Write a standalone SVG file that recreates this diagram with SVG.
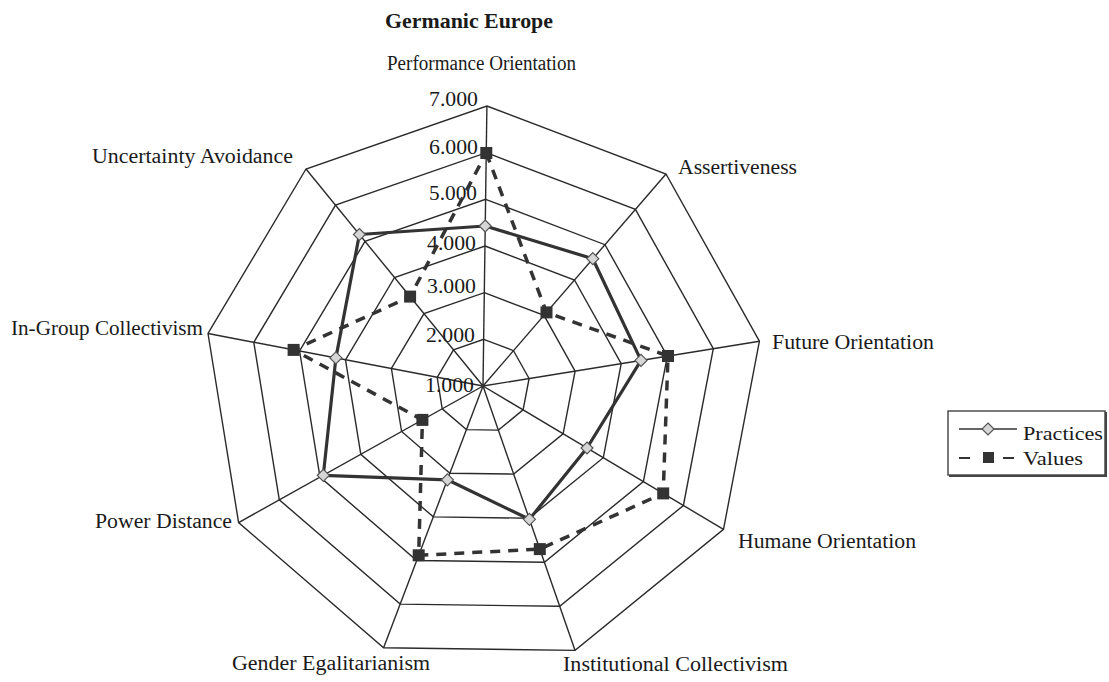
<svg xmlns="http://www.w3.org/2000/svg" width="1109" height="682" viewBox="0 0 1109 682">
<style>
text{font-family:"Liberation Serif","Times New Roman",serif;fill:#1a1a1a;font-size:20px}
.title{font-weight:bold}
.tick{text-anchor:end}
.ring{fill:none;stroke:#2a2a2a;stroke-width:1.4;stroke-linejoin:miter}
.spoke{stroke:#2a2a2a;stroke-width:1.4}
.prac{fill:none;stroke:#333;stroke-width:3.2;stroke-linejoin:round}
.vals{fill:none;stroke:#333;stroke-width:3.5;stroke-dasharray:10 8}
.leg{font-size:19px}
</style>
<defs>
<path id="dia" d="M0,-6 L6,0 L0,6 L-6,0 Z" fill="#d6d6d6" stroke="#555" stroke-width="1.2"/>
<rect id="sq" x="-6" y="-6" width="12" height="12" fill="#333"/>
</defs>
<rect width="1109" height="682" fill="#fff"/>
<text class="title" x="385" y="28" textLength="168" lengthAdjust="spacingAndGlyphs">Germanic Europe</text>
<g id="grid">
<polygon class="ring" points="486.9,106.0 666.0,174.0 759.4,341.2 723.5,529.4 575.1,650.4 383.6,647.7 238.6,522.6 208.0,333.5 306.0,169.0"/>
<polygon class="ring" points="486.3,152.7 635.4,209.4 713.3,348.7 683.4,505.5 559.7,606.3 400.2,604.1 279.3,499.8 253.8,342.3 335.5,205.2"/>
<polygon class="ring" points="485.6,199.3 605.0,244.7 667.3,356.1 643.4,481.6 544.4,562.3 416.7,560.5 320.0,477.1 299.6,351.0 365.0,241.3"/>
<polygon class="ring" points="485.0,246.0 574.5,280.0 621.2,363.6 603.3,457.7 529.0,518.2 433.3,516.9 360.8,454.3 345.5,359.8 394.5,277.5"/>
<polygon class="ring" points="484.3,292.7 544.0,315.4 575.1,371.1 563.1,433.8 513.7,474.1 449.9,473.2 401.6,431.5 391.4,368.5 424.0,313.7"/>
<polygon class="ring" points="483.7,339.3 513.5,350.7 529.1,378.5 523.1,409.9 498.4,430.1 466.4,429.6 442.2,408.8 437.2,377.3 453.5,349.8"/>
<g class="spoke">
<line x1="483" y1="386" x2="486.9" y2="106.0"/>
<line x1="483" y1="386" x2="666.0" y2="174.0"/>
<line x1="483" y1="386" x2="759.4" y2="341.2"/>
<line x1="483" y1="386" x2="723.5" y2="529.4"/>
<line x1="483" y1="386" x2="575.1" y2="650.4"/>
<line x1="483" y1="386" x2="383.6" y2="647.7"/>
<line x1="483" y1="386" x2="238.6" y2="522.6"/>
<line x1="483" y1="386" x2="208.0" y2="333.5"/>
<line x1="483" y1="386" x2="306.0" y2="169.0"/>
</g>
<circle cx="483" cy="386" r="2" fill="#333"/>
</g>
<g id="ticks">
<text class="tick" x="478" y="106" textLength="49" lengthAdjust="spacingAndGlyphs">7.000</text>
<text class="tick" x="478" y="154" textLength="49" lengthAdjust="spacingAndGlyphs">6.000</text>
<text class="tick" x="477" y="200" textLength="48" lengthAdjust="spacingAndGlyphs">5.000</text>
<text class="tick" x="476" y="250" textLength="49" lengthAdjust="spacingAndGlyphs">4.000</text>
<text class="tick" x="476" y="293" textLength="49" lengthAdjust="spacingAndGlyphs">3.000</text>
<text class="tick" x="475" y="342" textLength="49" lengthAdjust="spacingAndGlyphs">2.000</text>
<text class="tick" x="474" y="392" textLength="49" lengthAdjust="spacingAndGlyphs">1.000</text>
</g>
<g id="axis-labels">
<text x="387" y="70" textLength="189" lengthAdjust="spacingAndGlyphs">Performance Orientation</text>
<text x="678" y="174" textLength="119" lengthAdjust="spacingAndGlyphs">Assertiveness</text>
<text x="772" y="349" textLength="162" lengthAdjust="spacingAndGlyphs">Future Orientation</text>
<text x="738" y="548" textLength="178" lengthAdjust="spacingAndGlyphs">Humane Orientation</text>
<text x="563" y="671" textLength="225" lengthAdjust="spacingAndGlyphs">Institutional Collectivism</text>
<text x="232" y="670" textLength="198" lengthAdjust="spacingAndGlyphs">Gender Egalitarianism</text>
<text x="95" y="528" textLength="137" lengthAdjust="spacingAndGlyphs">Power Distance</text>
<text x="11" y="335" textLength="192" lengthAdjust="spacingAndGlyphs">In-Group Collectivism</text>
<text x="92" y="163" textLength="201" lengthAdjust="spacingAndGlyphs">Uncertainty Avoidance</text>
</g>
<g id="connectors">
<polygon class="vals" points="486.3,153.0 546.5,312.4 668.0,356.0 663.2,493.4 539.8,549.1 418.7,555.3 422.4,419.9 293.6,349.9 410.1,296.6"/>
<polygon class="prac" points="485.2,226.0 592.8,258.7 641.0,360.4 587.0,448.0 529.4,519.3 447.4,479.8 323.3,475.3 335.9,357.9 359.4,234.5"/>
</g>
<g id="values-markers">
<use href="#sq" x="486.3" y="153.0"/>
<use href="#sq" x="546.5" y="312.4"/>
<use href="#sq" x="668.0" y="356.0"/>
<use href="#sq" x="663.2" y="493.4"/>
<use href="#sq" x="539.8" y="549.1"/>
<use href="#sq" x="418.7" y="555.3"/>
<use href="#sq" x="422.4" y="419.9"/>
<use href="#sq" x="293.6" y="349.9"/>
<use href="#sq" x="410.1" y="296.6"/>
</g>
<g id="practices-markers">
<use href="#dia" x="485.2" y="226.0"/>
<use href="#dia" x="592.8" y="258.7"/>
<use href="#dia" x="641.0" y="360.4"/>
<use href="#dia" x="587.0" y="448.0"/>
<use href="#dia" x="529.4" y="519.3"/>
<use href="#dia" x="447.4" y="479.8"/>
<use href="#dia" x="323.3" y="475.3"/>
<use href="#dia" x="335.9" y="357.9"/>
<use href="#dia" x="359.4" y="234.5"/>
</g>
<g id="legend">
<rect x="948" y="411" width="157" height="64" fill="#fff" stroke="#333" stroke-width="1.3"/>
<polyline points="949,476 1106,476 1106,412" fill="none" stroke="#444" stroke-width="2"/>
<line x1="959" y1="429" x2="1017" y2="429" stroke="#333" stroke-width="1.5"/>
<use href="#dia" x="988" y="429"/>
<text class="leg" x="1023" y="440" textLength="80" lengthAdjust="spacingAndGlyphs">Practices</text>
<line x1="959" y1="458" x2="970" y2="458" stroke="#333" stroke-width="2"/>
<rect x="983" y="452" width="11" height="11" fill="#333"/>
<line x1="1003" y1="458" x2="1014" y2="458" stroke="#333" stroke-width="2"/>
<text class="leg" x="1023" y="465" textLength="60" lengthAdjust="spacingAndGlyphs">Values</text>
</g>
</svg>
